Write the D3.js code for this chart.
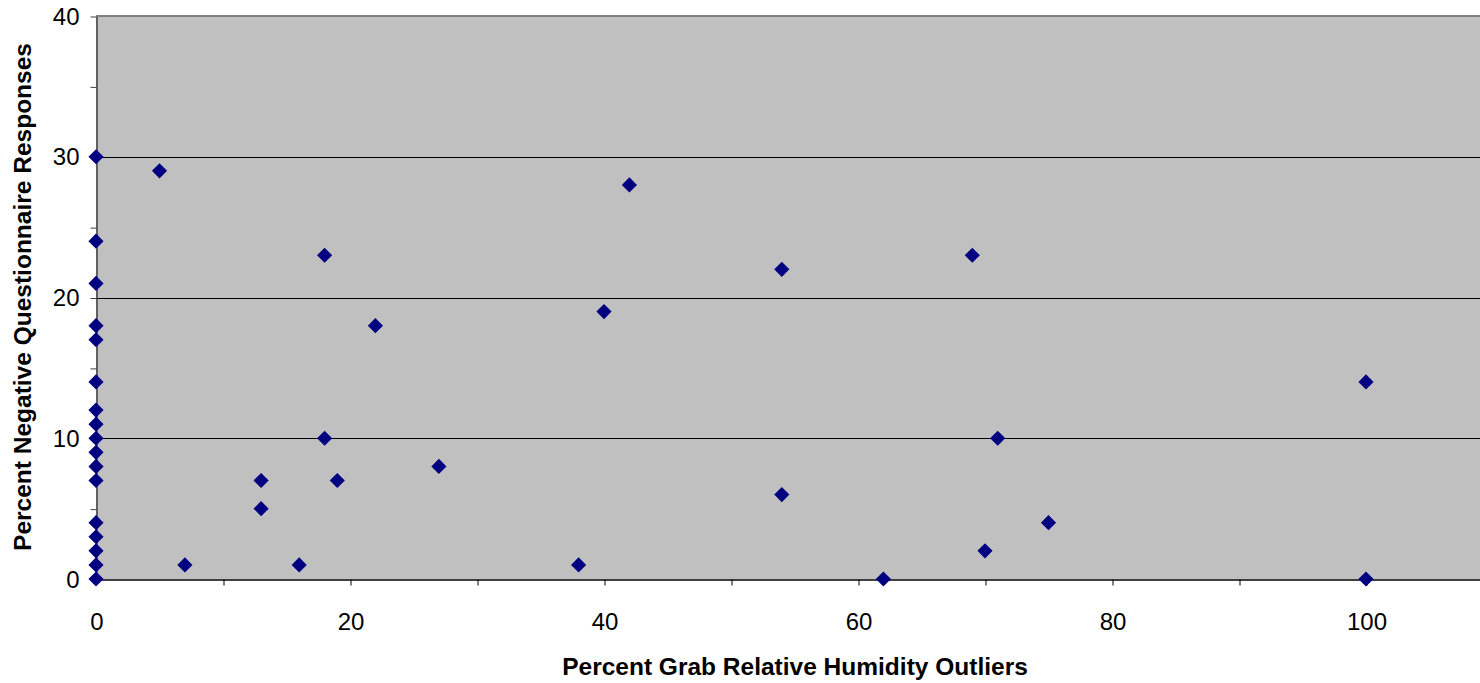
<!DOCTYPE html>
<html>
<head>
<meta charset="utf-8">
<script src="https://cdn.jsdelivr.net/npm/d3@7"></script>
<style>
  html, body { margin: 0; padding: 0; background: #fff; }
  svg { display: block; font-family: "Liberation Sans", Arial, sans-serif; }
</style>
</head>
<body>
<svg id="chart" width="1480" height="683"></svg>
<script>
// Percent grab RH outliers (x) vs percent negative questionnaire responses (y)
const outlierPct = [0, 0, 0, 0, 0, 0, 0, 0, 0, 0, 0, 0, 0, 0, 0, 0, 0,
                    5, 7, 13, 13, 16, 18, 18, 19, 22, 27, 38, 40, 42, 54, 54, 62, 69, 70, 71, 75, 100, 100];
const negativePct = [30, 24, 21, 18, 17, 14, 12, 11, 10, 9, 8, 7, 4, 3, 2, 1, 0,
                     29, 1, 7, 5, 1, 23, 10, 7, 18, 8, 1, 19, 28, 22, 6, 0, 23, 2, 10, 4, 14, 0];
const xTickLabels = [0, 20, 40, 60, 80, 100];
const yTickLabels = [0, 10, 20, 30, 40];

const points = outlierPct.map((x, i) => ({ x, y: negativePct[i] }));

const svg = d3.select("#chart");
const W = 1480;
const plotLeft = 96, plotTop = 16, plotBottom = 579;

// x domain runs past the visible edge; the plot area is cut at the window border
const x = d3.scaleLinear().domain([0, 120]).range([plotLeft, plotLeft + 120 * 12.7]);
const y = d3.scaleLinear().domain([0, 40]).range([plotBottom, plotTop]);

// plot background
svg.append("rect")
  .attr("x", plotLeft).attr("y", plotTop)
  .attr("width", W - plotLeft).attr("height", plotBottom - plotTop)
  .attr("fill", "#c0c0c0");

// horizontal gridlines
svg.append("g").selectAll("line")
  .data([10, 20, 30])
  .join("line")
  .attr("x1", plotLeft).attr("x2", W)
  .attr("y1", d => Math.round(y(d)) + 0.5).attr("y2", d => Math.round(y(d)) + 0.5)
  .attr("stroke", "#000").attr("stroke-width", 1);

// top border of the plot area
svg.append("line")
  .attr("x1", plotLeft).attr("x2", W)
  .attr("y1", plotTop).attr("y2", plotTop)
  .attr("stroke", "#808080").attr("stroke-width", 2);

// y axis: ticks every 5, labels every 10
const yAxis = d3.axisLeft(y)
  .tickValues(d3.range(0, 41, 5))
  .tickSize(6)
  .tickSizeOuter(0)
  .tickPadding(11)
  .tickFormat(d => yTickLabels.includes(d) ? d : "");
const gy = svg.append("g").attr("transform", `translate(${plotLeft + 0.5},0.5)`).call(yAxis);
gy.select(".domain").attr("stroke", "#404040").attr("stroke-width", 1.5);
gy.selectAll(".tick line").attr("stroke", "#404040");
gy.selectAll(".tick text").attr("font-size", 24).attr("fill", "#000")
  .attr("font-family", "Liberation Sans, Arial, sans-serif");

// x axis: ticks every 10, labels every 20
const xAxis = d3.axisBottom(x)
  .tickValues(d3.range(0, 121, 10))
  .tickSize(6)
  .tickSizeOuter(0)
  .tickPadding(27)
  .tickFormat(d => xTickLabels.includes(d) ? d : "");
const gx = svg.append("g").attr("transform", `translate(0.5,${plotBottom + 0.5})`).call(xAxis);
gx.select(".domain").attr("stroke", "#000").attr("stroke-width", 1.5);
gx.selectAll(".tick line").attr("stroke", "#000");
gx.selectAll(".tick").filter(d => d === 0).select("line").remove();
gx.selectAll(".tick text").attr("font-size", 24).attr("fill", "#000")
  .attr("font-family", "Liberation Sans, Arial, sans-serif");

// diamond markers
const diamond = d3.symbol().type(d3.symbolSquare).size(115);
svg.append("g").selectAll("path")
  .data(points)
  .join("path")
  .attr("d", diamond)
  .attr("transform", d => `translate(${x(d.x)},${y(d.y)}) rotate(45)`)
  .attr("fill", "#000080");

// axis titles
svg.append("text")
  .attr("x", 795).attr("y", 675)
  .attr("text-anchor", "middle")
  .attr("font-size", 24.5).attr("font-weight", "bold")
  .text("Percent Grab Relative Humidity Outliers");

svg.append("text")
  .attr("transform", "translate(31,297) rotate(-90)")
  .attr("text-anchor", "middle")
  .attr("font-size", 24.5).attr("font-weight", "bold")
  .text("Percent Negative Questionnaire Responses");
</script>
</body>
</html>
